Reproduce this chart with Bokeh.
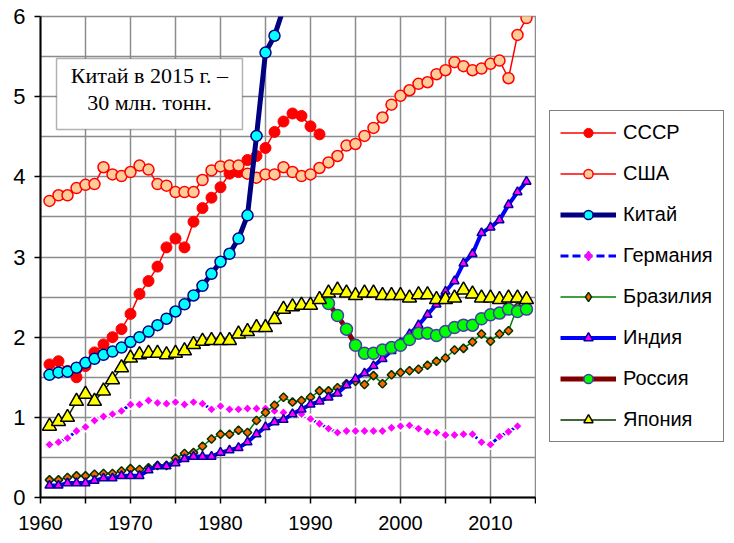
import numpy as np
from bokeh.plotting import figure
from bokeh.layouts import row
from bokeh.models import (Range1d, FixedTicker, Legend, LegendItem, BoxAnnotation, Label)
from bokeh.embed import file_html
from bokeh.resources import INLINE

# ---- data ----
ussr_years = list(range(1961, 1992))
ussr = [1.66, 1.70, 1.58, 1.50, 1.64, 1.81, 1.91, 2.00, 2.10, 2.29,
        2.54, 2.70, 2.88, 3.12, 3.23, 3.12, 3.44, 3.61, 3.74, 3.87,
        4.04, 4.06, 4.21, 4.26, 4.36, 4.56, 4.69, 4.79, 4.76, 4.63, 4.53]

usa_years = list(range(1961, 2015))
usa = [3.70, 3.77, 3.77, 3.86, 3.90, 3.91, 4.12, 4.03, 4.01, 4.06,
       4.14, 4.09, 3.91, 3.89, 3.81, 3.81, 3.81, 3.96, 4.08, 4.13,
       4.14, 4.14, 4.04, 3.99, 4.03, 4.03, 4.12, 4.06, 4.01, 4.03,
       4.11, 4.18, 4.26, 4.39, 4.41, 4.51, 4.61, 4.74, 4.90, 5.01,
       5.08, 5.16, 5.18, 5.28, 5.33, 5.43, 5.38, 5.33, 5.35, 5.41,
       5.45, 5.23, 5.77, 5.98]

china_years = list(range(1961, 1989))
china = [1.53, 1.56, 1.57, 1.62, 1.68, 1.73, 1.78, 1.82, 1.87, 1.94,
         2.00, 2.07, 2.15, 2.23, 2.32, 2.41, 2.52, 2.64, 2.79, 2.94,
         3.04, 3.23, 3.52, 4.51, 5.55, 5.76, 6.10, 6.80]

germany_years = list(range(1961, 2014))
germany = [0.66, 0.69, 0.74, 0.83, 0.88, 0.96, 1.01, 1.04, 1.08, 1.16,
           1.16, 1.21, 1.18, 1.17, 1.19, 1.16, 1.19, 1.17, 1.10, 1.14,
           1.10, 1.10, 1.11, 1.11, 1.11, 1.08, 1.06, 1.06, 1.04, 0.98,
           0.92, 0.86, 0.81, 0.83, 0.83, 0.83, 0.83, 0.83, 0.87, 0.89,
           0.90, 0.86, 0.82, 0.81, 0.78, 0.78, 0.79, 0.79, 0.69, 0.66,
           0.76, 0.82, 0.89]

brazil_years = list(range(1961, 2015))
brazil = [0.22, 0.22, 0.25, 0.27, 0.27, 0.29, 0.30, 0.30, 0.33, 0.36,
          0.35, 0.37, 0.40, 0.40, 0.49, 0.55, 0.56, 0.64, 0.73, 0.79,
          0.79, 0.84, 0.81, 0.96, 1.06, 1.15, 1.25, 1.19, 1.21, 1.25,
          1.33, 1.33, 1.37, 1.42, 1.45, 1.41, 1.52, 1.42, 1.53, 1.56,
          1.58, 1.60, 1.65, 1.70, 1.74, 1.84, 1.86, 1.94, 2.04, 1.95,
          2.04, 2.08, 2.38, 2.35]

india_years = list(range(1961, 2015))
india = [0.15, 0.15, 0.18, 0.18, 0.18, 0.21, 0.24, 0.24, 0.27, 0.27,
         0.27, 0.34, 0.39, 0.39, 0.43, 0.48, 0.51, 0.51, 0.51, 0.56,
         0.59, 0.62, 0.69, 0.79, 0.88, 0.94, 0.97, 1.04, 1.10, 1.16,
         1.20, 1.25, 1.30, 1.40, 1.48, 1.55, 1.64, 1.73, 1.83, 1.93,
         2.04, 2.15, 2.28, 2.41, 2.57, 2.70, 2.92, 3.04, 3.30, 3.37,
         3.46, 3.65, 3.81, 3.94]

russia_years = list(range(1992, 2015))
russia = [2.42, 2.27, 2.10, 1.90, 1.80, 1.80, 1.84, 1.87, 1.90, 1.97,
          2.05, 2.05, 2.02, 2.07, 2.12, 2.15, 2.15, 2.23, 2.28, 2.30,
          2.35, 2.32, 2.35]

japan_years = list(range(1961, 2015))
japan = [0.89, 0.95, 1.00, 1.20, 1.29, 1.20, 1.33, 1.47, 1.62, 1.74,
         1.78, 1.80, 1.80, 1.78, 1.80, 1.83, 1.91, 1.95, 1.96, 1.96,
         1.96, 2.04, 2.07, 2.12, 2.12, 2.22, 2.35, 2.38, 2.40, 2.40,
         2.47, 2.55, 2.59, 2.55, 2.52, 2.55, 2.55, 2.52, 2.52, 2.52,
         2.49, 2.53, 2.53, 2.47, 2.47, 2.49, 2.59, 2.54, 2.49, 2.49,
         2.47, 2.49, 2.49, 2.47]

names = ["СССР", "США", "Китай", "Германия", "Бразилия", "Индия", "Россия", "Япония"]
x_ticks = list(range(1960, 2016, 5))
x_labels = {t: (str(t) if t % 10 == 0 else "") for t in x_ticks}
y_ticks = [0, 1, 2, 3, 4, 5, 6]
y_grid = [i * 0.5 for i in range(13)]
note_lines = ["Китай в 2015 г. –", "30 млн. тонн."]

# ---- series styles: (line color, line width, dash, marker, size, fill, outline, outline width, angle)
styles = [
    ("red", 1.5, "solid", "circle", 11, "red", "red", 1, 0),
    ("red", 1.5, "solid", "circle", 11, "#FFCC99", "red", 1.5, 0),
    ("#000080", 5, "solid", "circle", 11, "#00FFFF", "#000080", 1.5, 0),
    ("#0000FF", 3, "8 4", "square", 7, "#FF00FF", "white", 1.5, np.pi / 4),
    ("#008000", 1.5, "solid", "square", 6, "#FF6600", "#003300", 1.5, np.pi / 4),
    ("#0000FF", 4, "solid", "triangle", 9, "#FF00FF", "#000099", 1.5, 0),
    ("#800000", 5, "solid", "circle", 12, "#00FF00", "#4040A0", 1.5, 0),
    ("#003300", 1.5, "solid", "triangle", 14, "#FFFF00", "black", 1.5, 0),
]
series = [(ussr_years, ussr), (usa_years, usa), (china_years, china), (germany_years, germany),
          (brazil_years, brazil), (india_years, india), (russia_years, russia), (japan_years, japan)]

# ---- main figure ----
p = figure(width=536, height=543, output_backend="svg", toolbar_location=None,
           x_range=Range1d(1960, 2015), y_range=Range1d(0, 6),
           min_border_left=40, min_border_right=1, min_border_top=16, min_border_bottom=46)
p.background_fill_color = "white"
p.border_fill_color = "white"
p.outline_line_color = "#8c8c8c"
p.outline_line_width = 1.5

p.xaxis.ticker = FixedTicker(ticks=x_ticks)
p.xaxis.major_label_overrides = x_labels
p.yaxis.ticker = FixedTicker(ticks=y_ticks)
p.xgrid.ticker = FixedTicker(ticks=x_ticks)
p.ygrid.ticker = FixedTicker(ticks=y_grid)
for g in (p.xgrid, p.ygrid):
    g.grid_line_color = "#8c8c8c"
    g.grid_line_width = 1.5

for ax in (p.xaxis, p.yaxis):
    ax.axis_line_color = "black"
    ax.axis_line_width = 2
    ax.major_tick_line_color = "black"
    ax.major_tick_line_width = 1.5
    ax.major_tick_out = 6
    ax.major_tick_in = 0
    ax.minor_tick_line_color = None
    ax.major_label_text_font = "Liberation Sans"
    ax.major_label_text_color = "black"
p.xaxis.major_label_text_font_size = "20px"
p.yaxis.major_label_text_font_size = "22px"
p.xaxis.major_label_standoff = 12
p.yaxis.major_label_standoff = 9

for (xs, ys), st in zip(series, styles):
    lc, lw, dash, mk, sz, fc, oc, ow, ang = st
    p.line(xs, ys, line_color=lc, line_width=lw, line_dash=dash)
    p.scatter(xs, ys, marker=mk, size=sz, angle=ang, fill_color=fc, line_color=oc, line_width=ow)

# annotation box
box = BoxAnnotation(left=1961.78, right=1982.44, top=5.476, bottom=4.590,
                    fill_color="white", fill_alpha=1, line_color="black", line_width=1.5)
p.add_layout(box)
p.add_layout(Label(x=1972.1, y=5.258, text=note_lines[0], text_align="center", text_baseline="middle",
                   text_font="Liberation Serif", text_font_size="22px", text_color="black"))
p.add_layout(Label(x=1972.1, y=4.921, text=note_lines[1], text_align="center", text_baseline="middle",
                   text_font="Liberation Serif", text_font_size="22px", text_color="black"))

# ---- legend panel (same series drawn outside this panel's visible range) ----
q = figure(width=198, height=543, output_backend="svg", toolbar_location=None,
           x_range=Range1d(0, 1), y_range=Range1d(-100, -99),
           x_axis_location=None, y_axis_location=None, min_border=0)
q.outline_line_color = None
q.grid.visible = False
q.background_fill_color = "white"
q.border_fill_color = "white"

items = []
for name, (xs, ys), st in zip(names, series, styles):
    lc, lw, dash, mk, sz, fc, oc, ow, ang = st
    if mk == "square":
        mk, sz = "diamond", 10
    l = q.line(xs, ys, line_color=lc, line_width=lw, line_dash=dash)
    s = q.scatter(xs, ys, marker=mk, size=sz, fill_color=fc,
                  line_color=(oc if oc != "white" else fc), line_width=ow)
    items.append(LegendItem(label=name, renderers=[l, s]))

legend = Legend(items=items, location=(13, 55), orientation="vertical",
                glyph_width=56, glyph_height=23, label_height=23, spacing=18,
                label_standoff=7, padding=10, margin=0,
                label_text_font="Liberation Sans", label_text_font_size="20px",
                label_text_color="black", label_text_baseline="middle",
                border_line_color="black", border_line_width=1.5,
                background_fill_color="white", background_fill_alpha=1)
q.add_layout(legend, "center")

open("out.html", "w").write(file_html(row(p, q, spacing=0), INLINE))
